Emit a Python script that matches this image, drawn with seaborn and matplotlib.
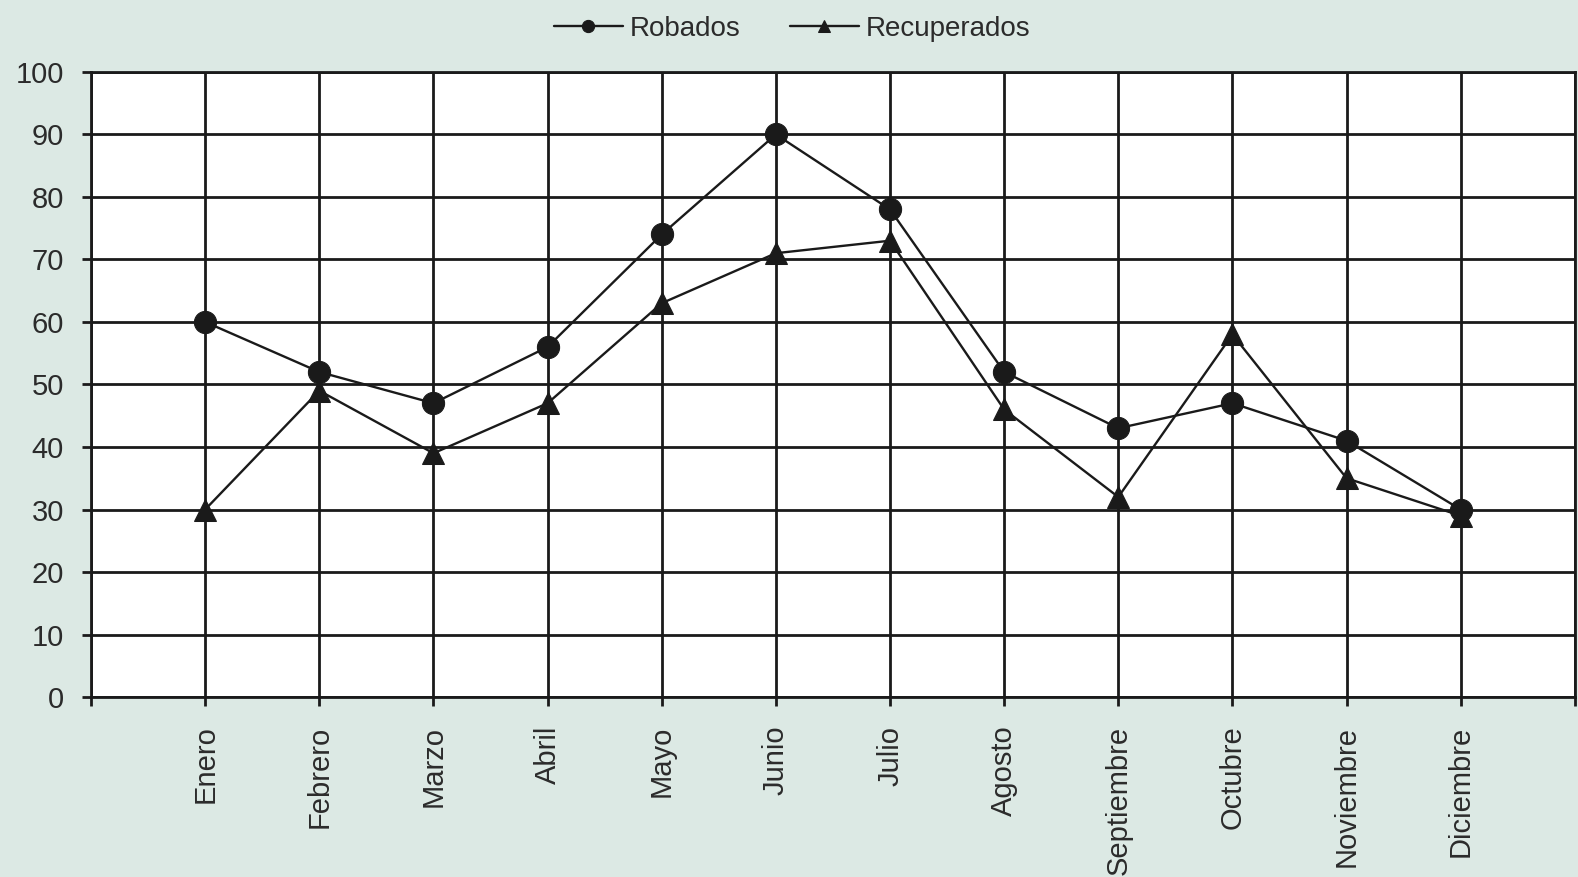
import matplotlib
matplotlib.use("Agg")
import matplotlib.pyplot as plt
import seaborn as sns
import pandas as pd

meses = ["Enero", "Febrero", "Marzo", "Abril", "Mayo", "Junio", "Julio",
         "Agosto", "Septiembre", "Octubre", "Noviembre", "Diciembre"]
robados = [60, 52, 47, 56, 74, 90, 78, 52, 43, 47, 41, 30]
recuperados = [30, 49, 39, 47, 63, 71, 73, 46, 32, 58, 35, 29]
y_ticks = [0, 10, 20, 30, 40, 50, 60, 70, 80, 90, 100]

sns.set_theme(style="white")
plt.rcParams["font.family"] = ["Liberation Sans", "DejaVu Sans"]

bg = "#dce9e4"
ink = "#1a1a1a"
text_c = "#2b2b2b"

df = pd.DataFrame({"pos": range(len(meses)), "mes": meses,
                   "Robados": robados, "Recuperados": recuperados})

fig = plt.figure(figsize=(15.78, 8.77), dpi=100, facecolor=bg)
ax = fig.add_axes([0.0577, 0.2052, 0.9403, 0.7128])
ax.set_facecolor("white")

sns.lineplot(data=df, x="pos", y="Robados", ax=ax, color=ink, lw=1.7,
             marker="o", markersize=16, markeredgecolor=ink,
             label="Robados", zorder=4)
sns.lineplot(data=df, x="pos", y="Recuperados", ax=ax, color=ink, lw=1.7,
             marker="^", markersize=16, markeredgecolor=ink,
             label="Recuperados", zorder=3)

ax.set_xlim(-1, len(meses))
ax.set_ylim(0, 100)
ax.set_yticks(y_ticks)
ax.set_yticklabels([str(v) for v in y_ticks], fontsize=21, color=text_c)

xt = list(range(-1, len(meses) + 1))
ax.set_xticks(xt)
ax.set_xticklabels([""] + meses + [""], rotation=90, fontsize=21, color=text_c)

ax.grid(True, color=ink, lw=2.0)
ax.set_axisbelow(True)
for s in ax.spines.values():
    s.set_color(ink)
    s.set_linewidth(2.0)

ax.tick_params(axis="both", which="major", length=6.5, width=2, color=ink,
               direction="out", bottom=True, left=True)
ax.tick_params(axis="x", pad=14)
ax.tick_params(axis="y", pad=13)
ax.set_xlabel("")
ax.set_ylabel("")

ax.legend(loc="center", bbox_to_anchor=(0.502, 0.967),
          bbox_transform=fig.transFigure, ncol=2, frameon=False,
          fontsize=20, handlelength=2.5, columnspacing=1.75,
          handletextpad=0.25, markerscale=0.55, labelcolor=text_c)

fig.savefig("out.png", dpi=100, facecolor=bg)
